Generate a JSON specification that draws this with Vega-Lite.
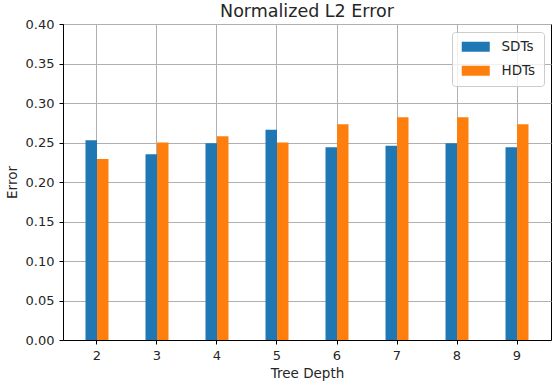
{
  "$schema": "https://vega.github.io/schema/vega-lite/v6.json",
  "width": 488,
  "height": 316,
  "autosize": {"type": "none"},
  "padding": {"left": 63, "top": 24, "right": 1, "bottom": 44},
  "title": {"text": "Normalized L2 Error", "fontSize": 17.5, "font": "DejaVu Sans", "fontWeight": "normal", "color": "#262626", "anchor": "middle", "offset": -2},
  "data": {
    "values": [
      {"depth": 2, "method": "SDTs", "error": 0.253},
      {"depth": 2, "method": "HDTs", "error": 0.229},
      {"depth": 3, "method": "SDTs", "error": 0.235},
      {"depth": 3, "method": "HDTs", "error": 0.250},
      {"depth": 4, "method": "SDTs", "error": 0.249},
      {"depth": 4, "method": "HDTs", "error": 0.258},
      {"depth": 5, "method": "SDTs", "error": 0.266},
      {"depth": 5, "method": "HDTs", "error": 0.250},
      {"depth": 6, "method": "SDTs", "error": 0.244},
      {"depth": 6, "method": "HDTs", "error": 0.273},
      {"depth": 7, "method": "SDTs", "error": 0.246},
      {"depth": 7, "method": "HDTs", "error": 0.282},
      {"depth": 8, "method": "SDTs", "error": 0.249},
      {"depth": 8, "method": "HDTs", "error": 0.282},
      {"depth": 9, "method": "SDTs", "error": 0.244},
      {"depth": 9, "method": "HDTs", "error": 0.273}
    ]
  },
  "mark": {"type": "bar"},
  "encoding": {
    "x": {
      "field": "depth",
      "type": "ordinal",
      "scale": {"paddingInner": 0.617, "paddingOuter": 0.375},
      "axis": {"title": "Tree Depth", "labelAngle": 0, "titlePadding": 4}
    },
    "xOffset": {"field": "method", "type": "nominal", "sort": ["SDTs", "HDTs"]},
    "y": {
      "field": "error",
      "type": "quantitative",
      "scale": {"domain": [0, 0.4], "nice": false},
      "axis": {"values": [0, 0.05, 0.1, 0.15, 0.2, 0.25, 0.3, 0.35, 0.4], "format": ".2f", "title": "Error", "titlePadding": 6}
    },
    "color": {
      "field": "method",
      "type": "nominal",
      "sort": ["SDTs", "HDTs"],
      "scale": {"range": ["#1f77b4", "#ff7f0e"]},
      "legend": {
        "orient": "none",
        "legendX": 389,
        "legendY": 8,
        "title": null,
        "symbolType": "M-1,-1L4.6,-1L4.6,1L-1,1Z",
        "symbolSize": 100,
        "symbolStrokeWidth": 0,
        "symbolOpacity": 1,
        "labelFontSize": 13.5,
        "labelFont": "DejaVu Sans",
        "labelColor": "#262626",
        "labelOffset": 28,
        "rowPadding": 9,
        "padding": 8,
        "strokeColor": "#cccccc",
        "fillColor": "rgba(255,255,255,0.8)",
        "cornerRadius": 3
      }
    }
  },
  "config": {
    "view": {"stroke": "#000000", "strokeWidth": 1},
    "font": "DejaVu Sans",
    "axis": {
      "zindex": 1,
      "grid": true,
      "gridColor": "#b0b0b0",
      "gridWidth": 1,
      "gridOpacity": 1,
      "domainColor": "#000000",
      "domainWidth": 1,
      "tickColor": "#000000",
      "tickSize": 4,
      "tickWidth": 1,
      "labelFont": "DejaVu Sans",
      "labelFontSize": 13,
      "labelColor": "#262626",
      "labelPadding": 5,
      "titleFont": "DejaVu Sans",
      "titleFontSize": 13.5,
      "titleFontWeight": "normal",
      "titleColor": "#262626"
    }
  }
}
